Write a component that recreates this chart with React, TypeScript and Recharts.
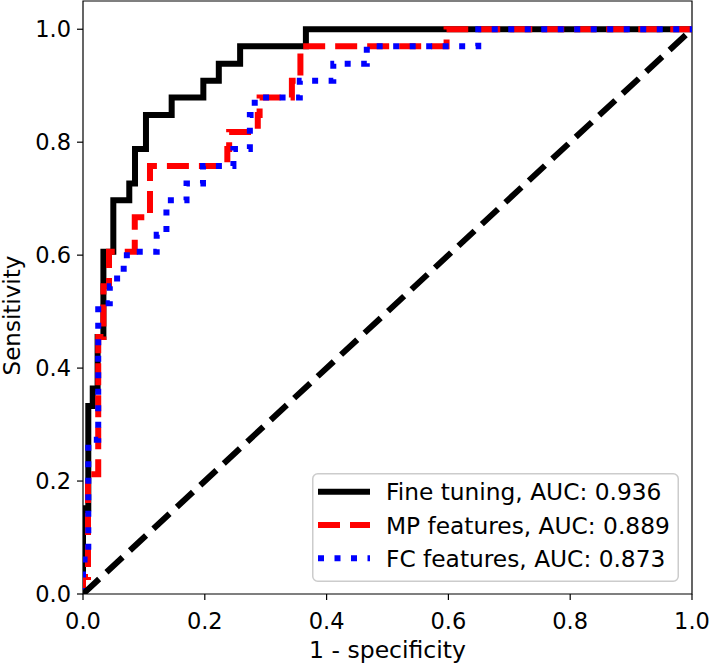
import { LineChart, Line, XAxis, YAxis, ReferenceArea, Legend } from "recharts";

// ROC points (false positive rate / true positive rate)
const fineTuningFpr = [0, 0, 0.0087, 0.0087, 0.016, 0.016, 0.024, 0.024, 0.0335, 0.0335, 0.0498, 0.0498, 0.076, 0.076, 0.0854, 0.0854, 0.1034, 0.1034, 0.1456, 0.1456, 0.1976, 0.1976, 0.223, 0.223, 0.258, 0.258, 0.366, 0.366, 1];
const fineTuningTpr = [0, 0.152, 0.152, 0.333, 0.333, 0.364, 0.364, 0.455, 0.455, 0.606, 0.606, 0.697, 0.697, 0.727, 0.727, 0.788, 0.788, 0.848, 0.848, 0.879, 0.879, 0.909, 0.909, 0.939, 0.939, 0.97, 0.97, 1, 1];

const mpFpr = [0, 0, 0.0082, 0.0082, 0.025, 0.025, 0.0335, 0.0335, 0.0427, 0.0427, 0.085, 0.085, 0.11, 0.11, 0.237, 0.237, 0.24, 0.24, 0.287, 0.287, 0.29, 0.29, 0.343, 0.343, 0.357, 0.357, 0.597, 0.597, 1];
const mpTpr = [0, 0.03, 0.03, 0.212, 0.212, 0.455, 0.455, 0.545, 0.545, 0.606, 0.606, 0.667, 0.667, 0.758, 0.758, 0.788, 0.788, 0.818, 0.818, 0.848, 0.848, 0.879, 0.879, 0.909, 0.909, 0.97, 0.97, 1, 1];

const fcFpr = [0, 0, 0.0087, 0.0087, 0.025, 0.025, 0.044, 0.044, 0.056, 0.056, 0.072, 0.072, 0.121, 0.121, 0.137, 0.137, 0.17, 0.17, 0.197, 0.197, 0.247, 0.247, 0.274, 0.274, 0.282, 0.282, 0.356, 0.356, 0.411, 0.411, 0.466, 0.466, 0.649, 0.649, 1];
const fcTpr = [0, 0.061, 0.061, 0.273, 0.273, 0.515, 0.515, 0.545, 0.545, 0.576, 0.576, 0.606, 0.606, 0.636, 0.636, 0.697, 0.697, 0.727, 0.727, 0.758, 0.758, 0.788, 0.788, 0.848, 0.848, 0.879, 0.879, 0.909, 0.909, 0.939, 0.939, 0.97, 0.97, 1, 1];

const chanceFpr = [0, 1];
const chanceTpr = [0, 1];

const seriesNames = ["Fine tuning, AUC: 0.936", "MP features, AUC: 0.889", "FC features, AUC: 0.873"];
const xTicks = [0, 0.2, 0.4, 0.6, 0.8, 1.0];
const yTicks = [0, 0.2, 0.4, 0.6, 0.8, 1.0];

const FONT = "'DejaVu Sans', sans-serif";
const LW = 6;

const zip = (xs: number[], ys: number[]) => xs.map((x, i) => ({ x, y: ys[i] }));

const styles = [
  { color: "#000000", dash: undefined as string | undefined },
  { color: "#ff0000", dash: "22 10" },
  { color: "#0000ff", dash: "6 10.5" },
];

function YTitle(props: any) {
  const vb = props.viewBox;
  const cx = vb.x + 12;
  const cy = vb.y + vb.height / 2 + 18;
  return (
    <text x={cx} y={cy} transform={`rotate(-90 ${cx} ${cy})`} textAnchor="middle"
      dominantBaseline="central" fontSize={23} fontFamily={FONT} fill="#000">
      Sensitivity
    </text>
  );
}

function XTitle(props: any) {
  const vb = props.viewBox;
  return (
    <text x={vb.x + vb.width / 2} y={vb.y + 64} textAnchor="middle"
      fontSize={23.5} fontFamily={FONT} fill="#000">
      1 - specificity
    </text>
  );
}

function LegendBox() {
  return (
    <svg width={367} height={109} style={{ display: "block" }}>
      <rect x={0.75} y={0.75} width={365.5} height={107.5} rx={5} fill="#fff" fillOpacity={0.8}
        stroke="#cccccc" strokeWidth={1.5} />
      {seriesNames.map((name, i) => {
        const cy = 18.7 + i * 33.3;
        return (
          <g key={name}>
            <line x1={6} x2={58} y1={cy} y2={cy} stroke={styles[i].color} strokeWidth={LW}
              strokeDasharray={styles[i].dash} />
            <text x={74} y={cy} dominantBaseline="central" fontSize={23.3} fontFamily={FONT} fill="#000">
              {name}
            </text>
          </g>
        );
      })}
    </svg>
  );
}

export default function App() {
  const tickStyle = { fontSize: 22.5, fontFamily: FONT, fill: "#000" };
  return (
    <div style={{ position: "absolute", left: 0, top: 0, background: "#fff" }}>
      <LineChart width={709} height={665} margin={{ top: 1, right: 17, bottom: 0, left: 0 }}>
        <XAxis type="number" dataKey="x" domain={[0, 1]} ticks={xTicks} allowDataOverflow
          tickFormatter={(v: number) => v.toFixed(1)} tick={tickStyle} tickSize={6} tickMargin={13}
          axisLine={false} tickLine={{ stroke: "#000", strokeWidth: 1.2 }} height={71}
          label={<XTitle />} />
        <YAxis type="number" dataKey="y" domain={[0, 1.05]} ticks={yTicks} allowDataOverflow
          tickFormatter={(v: number) => v.toFixed(1)} tick={tickStyle} tickSize={6} tickMargin={6}
          axisLine={false} tickLine={{ stroke: "#000", strokeWidth: 1.2 }} width={83}
          label={<YTitle />} />
        <ReferenceArea x1={0} x2={1} y1={0} y2={1.05} fill="none" stroke="#000" strokeWidth={1.2} />
        <Line data={zip(fineTuningFpr, fineTuningTpr)} dataKey="y" type="linear" stroke={styles[0].color}
          strokeWidth={LW} dot={false} activeDot={false} isAnimationActive={false} />
        <Line data={zip(mpFpr, mpTpr)} dataKey="y" type="linear" stroke={styles[1].color}
          strokeWidth={LW} strokeDasharray={styles[1].dash} dot={false} activeDot={false} isAnimationActive={false} />
        <Line data={zip(fcFpr, fcTpr)} dataKey="y" type="linear" stroke={styles[2].color}
          strokeWidth={LW} strokeDasharray={styles[2].dash} dot={false} activeDot={false} isAnimationActive={false} />
        <Line data={zip(chanceFpr, chanceTpr)} dataKey="y" type="linear" stroke="#000"
          strokeWidth={LW} strokeDasharray="22 10" dot={false} activeDot={false} isAnimationActive={false}
          legendType="none" />
        <Legend layout="vertical" align="center" verticalAlign="middle" content={<LegendBox />}
          wrapperStyle={{ left: 312, top: 473, width: 367, height: 109 }} />
      </LineChart>
    </div>
  );
}
